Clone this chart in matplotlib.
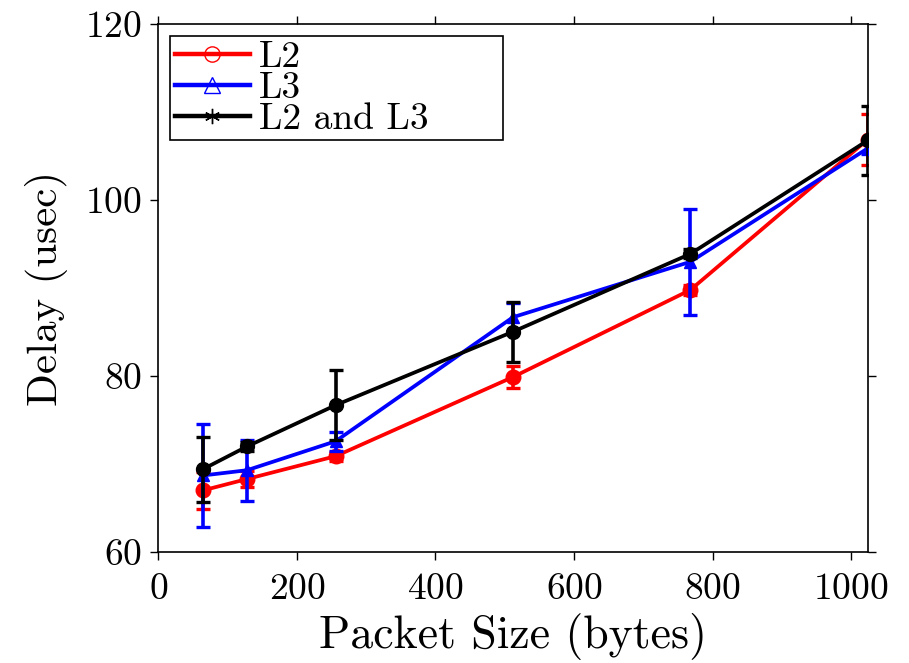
import matplotlib
matplotlib.use("Agg")
import matplotlib.pyplot as plt
from matplotlib.lines import Line2D

plt.rcParams['font.family'] = ['cmr10', 'DejaVu Serif']
plt.rcParams['mathtext.fontset'] = 'cm'
plt.rcParams['axes.formatter.use_mathtext'] = True

# Packet sizes (bytes) and measured delays (usec) with error margins
packet_size = [64, 128, 256, 512, 768, 1024]

l2_delay = [67.0, 68.3, 70.9, 79.9, 89.8, 106.9]
l2_err = [2.1, 0.9, 0.5, 1.2, 0.6, 2.85]

l3_delay = [68.7, 69.3, 72.6, 86.7, 93.0, 105.9]
l3_err = [5.9, 3.45, 1.1, 1.6, 6.0, 0.6]

l2l3_delay = [69.4, 72.0, 76.7, 85.05, 93.9, 106.8]
l2l3_err = [3.7, 0.5, 4.0, 3.4, 0.5, 3.9]

series = [
    ("L2", l2_delay, l2_err, "red", "o", "o", 10.5),
    ("L3", l3_delay, l3_err, "blue", "^", "^", 8.5),
    ("L2 and L3", l2l3_delay, l2l3_err, "black", "o", (6, 2, 0), 10),
]

fig = plt.figure(figsize=(9.09, 6.63), dpi=100)
ax = fig.add_axes([0.1742, 0.1674, 0.9546 - 0.1742, 0.9633 - 0.1674])

handles = []
for i, (label, y, err, color, mk, legend_mk, ms) in enumerate(series):
    ax.errorbar(packet_size, y, yerr=err, color=color, lw=2.7,
                elinewidth=2.6, capsize=4.8, capthick=2.4,
                marker=mk, markersize=ms, markerfacecolor=color,
                markeredgecolor=color, zorder=2 + i)
    handles.append(Line2D([], [], color=color, lw=3.2, marker=legend_mk,
                          markersize=11, markerfacecolor='none',
                          markeredgecolor=color, markeredgewidth=1.0))

ax.set_xlim(0, 1024)
ax.set_ylim(60, 120)
ax.set_xticks([0, 200, 400, 600, 800, 1000])
ax.set_yticks([60, 80, 100, 120])

ax.tick_params(direction='out', length=6, width=1.0, labelsize=27,
               top=True, right=True)
ax.tick_params(axis='x', pad=9)
ax.tick_params(axis='y', pad=6)
for s in ax.spines.values():
    s.set_linewidth(1.2)

ax.set_xlabel("Packet Size (bytes)", fontsize=33, labelpad=5)
ax.set_ylabel("Delay (usec)", fontsize=31, labelpad=12)

# Legend box pinned to the upper-left corner of the axes
box_x0, box_w = 0.0165, 0.469
box_top, box_h = 0.978, 0.195
leg = ax.legend(handles, ["L2", "L3", "L2 and L3"], loc='upper left',
                bbox_to_anchor=(box_x0, box_top - box_h, box_w, box_h),
                mode='expand', fontsize=27,
                frameon=True, fancybox=False, edgecolor='black',
                framealpha=1, borderpad=0.12, labelspacing=-0.06,
                handlelength=2.0, handletextpad=0.25, borderaxespad=0)
leg.get_frame().set_linewidth(1.2)

fig.savefig("out.png", dpi=100)
